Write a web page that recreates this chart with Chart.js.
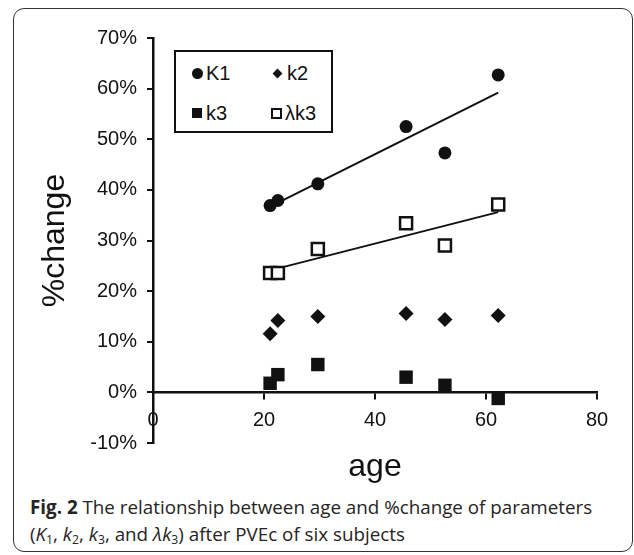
<!DOCTYPE html>
<html>
<head>
<meta charset="utf-8">
<script src="https://cdn.jsdelivr.net/npm/chart.js@4.4.1/dist/chart.umd.min.js"></script>
<style>
  html, body { margin: 0; padding: 0; background: #fff; }
  body { width: 634px; height: 555px; position: relative; overflow: hidden; }
  .frame {
    position: absolute; left: 13px; top: 8px; width: 618px; height: 542px;
    border: 1.5px solid #333; border-radius: 11px;
  }
  #chart { position: absolute; left: 0; top: 0; }
  .legend {
    position: absolute; left: 174px; top: 50px; width: 155px; height: 79px;
    border: 2px solid #111; background: #fff;
    font-family: "Liberation Sans", Arial, sans-serif; font-size: 20px; color: #111;
  }
  .legend .item { position: absolute; height: 22px; line-height: 22px; white-space: nowrap; }
  .legend .mk { position: absolute; top: 50%; background: #111; box-sizing: border-box; }
  .mk.circle { width: 11px; height: 11px; margin-top: -5.5px; border-radius: 50%; left: 0; }
  .mk.diamond { width: 7px; height: 7px; margin-top: -3.5px; left: 1px; transform: rotate(45deg); }
  .mk.square { width: 10px; height: 10px; margin-top: -5px; left: 0; }
  .mk.open { width: 11px; height: 11px; margin-top: -5.5px; left: 0; background: #fff; border: 2px solid #111; }
  .legend .txt { position: absolute; left: 14px; top: 0; }
  .caption {
    position: absolute; left: 30px; top: 494px;
    font-family: "Open Sans", "Noto Sans", sans-serif; font-size: 18.8px; line-height: 27px; color: #262324;
    white-space: nowrap;
  }
  .caption b { font-weight: 700; }
  .caption sub { font-size: 0.65em; vertical-align: -0.25em; line-height: 0; }
</style>
</head>
<body>
<div class="frame"></div>
<canvas id="chart" width="634" height="490"></canvas>
<div class="legend" id="legend"></div>
<div class="caption"><b>Fig. 2</b> The relationship between age and %change of parameters<br>(<i>K</i><sub>1</sub>, <i>k</i><sub>2</sub>, <i>k</i><sub>3</sub>, and <i>λk</i><sub>3</sub>) after PVEc of six subjects</div>

<script>
// ---- data (age in years, %change) ----
const ages = [21.1, 22.5, 29.7, 45.6, 52.6, 62.2];
const K1 = [36.9, 37.9, 41.2, 52.5, 47.3, 62.7];
const k2 = [11.6, 14.2, 15.0, 15.6, 14.4, 15.2];
const k3 = [1.8, 3.5, 5.5, 3.0, 1.4, -1.2];
const lambdaK3 = [23.6, 23.6, 28.3, 33.4, 29.0, 37.1];

// linear trend lines as drawn (end points)
const trendAges = [21.1, 62.2];
const K1Trend = [36.7, 59.2];
const lambdaK3Trend = [24.1, 35.6];

const INK = '#111';
const FONT = '"Liberation Sans", Arial, sans-serif';

function pts(xs, ys) {
  return xs.map((x, i) => ({ x: x, y: ys[i] }));
}

const datasets = [
  { label: 'K1', data: pts(ages, K1), pointStyle: 'circle', pointRadius: 6.5,
    backgroundColor: INK, borderColor: INK, pointBorderWidth: 0 },
  { label: 'k2', data: pts(ages, k2), pointStyle: 'rectRot', pointRadius: 7.5,
    backgroundColor: INK, borderColor: INK, pointBorderWidth: 0 },
  { label: 'k3', data: pts(ages, k3), pointStyle: 'rect', pointRadius: 9.5,
    backgroundColor: INK, borderColor: INK, pointBorderWidth: 0 },
  { label: 'λk3', data: pts(ages, lambdaK3), pointStyle: 'rect', pointRadius: 8.5,
    backgroundColor: '#fff', borderColor: INK, pointBorderWidth: 2.5 },
  { type: 'line', label: 'K1 trend', data: pts(trendAges, K1Trend), showLine: true,
    borderColor: INK, borderWidth: 2, pointRadius: 0, fill: false },
  { type: 'line', label: 'λk3 trend', data: pts(trendAges, lambdaK3Trend), showLine: true,
    borderColor: INK, borderWidth: 2, pointRadius: 0, fill: false },
];

new Chart(document.getElementById('chart'), {
  type: 'scatter',
  data: { datasets: datasets },
  options: {
    responsive: false,
    animation: false,
    clip: false,
    layout: { padding: { top: 38, right: 37, left: 0, bottom: 0 } },
    plugins: { legend: { display: false }, tooltip: { enabled: false } },
    scales: {
      x: {
        type: 'linear', min: 0, max: 80,
        position: { y: 0 },
        ticks: { stepSize: 20, color: INK, padding: 10, font: { family: FONT, size: 20 } },
        grid: { drawOnChartArea: false, drawTicks: true, tickLength: 6, color: INK, lineWidth: 2 },
        border: { display: true, color: INK, width: 2.5 },
      },
      xTitle: {
        type: 'linear', axis: 'x', position: 'bottom', min: 0, max: 80,
        ticks: { display: false },
        grid: { display: false },
        border: { display: false },
        title: { display: true, text: 'age', color: INK, padding: { top: 0, bottom: 4 },
          font: { family: FONT, size: 32 } },
        afterFit: s => { s.height = 47; },
      },
      y: {
        type: 'linear', min: -10, max: 70,
        ticks: { stepSize: 10, color: INK, padding: 10, font: { family: FONT, size: 20 },
          callback: v => v + '%' },
        grid: { drawOnChartArea: false, drawTicks: true, tickLength: 6, color: INK, lineWidth: 2 },
        border: { display: true, color: INK, width: 2.5 },
        title: { display: true, text: '%change', color: INK, padding: { top: 36, bottom: 0 },
          font: { family: FONT, size: 32 } },
        afterFit: s => { s.width = 153; },
      },
    },
  },
});

// ---- legend box (2 x 2) built from the datasets ----
const legendShapes = ['circle', 'diamond', 'square', 'open'];
const legendSpots = [
  { left: 16, top: 10 }, { left: 97, top: 10 },
  { left: 16, top: 50 }, { left: 95, top: 50 },
];
document.getElementById('legend').innerHTML = legendShapes.map((shape, i) => `
  <div class="item" style="left:${legendSpots[i].left}px; top:${legendSpots[i].top}px;">
    <span class="mk ${shape}"></span><span class="txt">${datasets[i].label}</span>
  </div>
`).join('');
</script>
</body>
</html>
